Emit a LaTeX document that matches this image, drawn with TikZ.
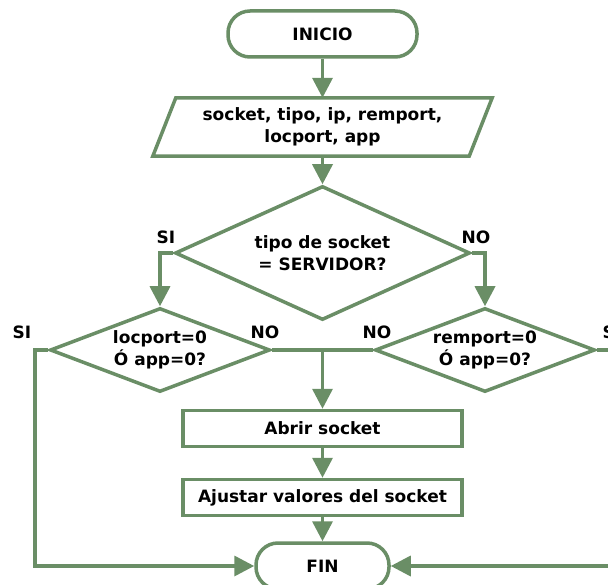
\documentclass[tikz,border=0pt]{standalone}
\usepackage{fontspec}
\setmainfont{DejaVu Sans}
\usetikzlibrary{shapes.geometric,arrows.meta}
\definecolor{flow}{RGB}{106,142,102}

\begin{document}
\begin{tikzpicture}[x=1pt,y=-1pt,
  every node/.style={font=\bfseries\fontsize{17}{22}\selectfont, align=center, inner sep=0pt},
  line/.style={draw=flow, line width=3.5pt},
  arr/.style={line, -{Triangle[length=20pt,width=20pt]}},
  terminal/.style={line, rectangle, rounded corners=22pt, fill=white},
  process/.style={line, rectangle, fill=white, minimum width=279pt, minimum height=36pt},
  decision/.style={line, diamond, fill=white, aspect=2.4},
  tag/.style={font=\bfseries\fontsize{17}{20}\selectfont}
]
% page frame
\clip (0,0) rectangle (608,585);
\useasboundingbox (0,0) rectangle (608,585);

% nodes
\node[terminal, minimum width=189pt, minimum height=46pt] (inicio) at (322.5,34) {INICIO};

\node[minimum width=339pt, minimum height=58pt] (inp) at (322.5,127)
  {socket, tipo, ip, remport,\\ locport, app};
\draw[line] ([xshift=23pt]inp.north west) -- (inp.north east)
  -- ([xshift=-23pt]inp.south east) -- (inp.south west) -- cycle;

\node[decision, minimum width=295pt, minimum height=134pt] (d1) at (322.5,253)
  {tipo de socket\\ = SERVIDOR?};
\node[decision, minimum width=220pt, minimum height=84pt] (d2) at (160,350)
  {locport=0\\ Ó app=0?};
\node[decision, minimum width=220pt, minimum height=84pt] (d3) at (485,350)
  {remport=0\\ Ó app=0?};

\node[process] (abrir) at (322.5,428.5) {Abrir socket};
\node[process] (ajustar) at (322.5,497.5) {Ajustar valores del socket};

\node[terminal, minimum width=133pt, minimum height=46pt] (fin) at (322.5,566) {FIN};

\coordinate (merge) at (322.5,350);
\coordinate (lret) at (35,350);
\coordinate (rret) at (625,350);

% connectors
\draw[arr] (inicio) -- (inp);
\draw[arr] (inp) -- (d1);
\draw[arr] (d1.west) -| (d2.north);
\draw[arr] (d1.east) -| (d3.north);
\draw[line] (d2.east) -- (merge);
\draw[line] (d3.west) -- (merge);
\draw[arr] (merge) -- (abrir);
\draw[arr] (abrir) -- (ajustar);
\draw[arr] (ajustar) -- (fin);
\draw[arr] (d2.west) -- (lret) |- (fin.west);
\draw[arr] (d3.east) -- (rret) |- (fin.east);

% branch labels
\node[tag] (l1) at (166,237) {SI};
\node[tag] (l2) at (476,237) {NO};
\node[tag] (l3) at (22,332) {SI};
\node[tag] (l4) at (265,332) {NO};
\node[tag] (l5) at (377,332) {NO};
\node[tag] (l6) at (612,332) {SI};
\end{tikzpicture}
\end{document}
